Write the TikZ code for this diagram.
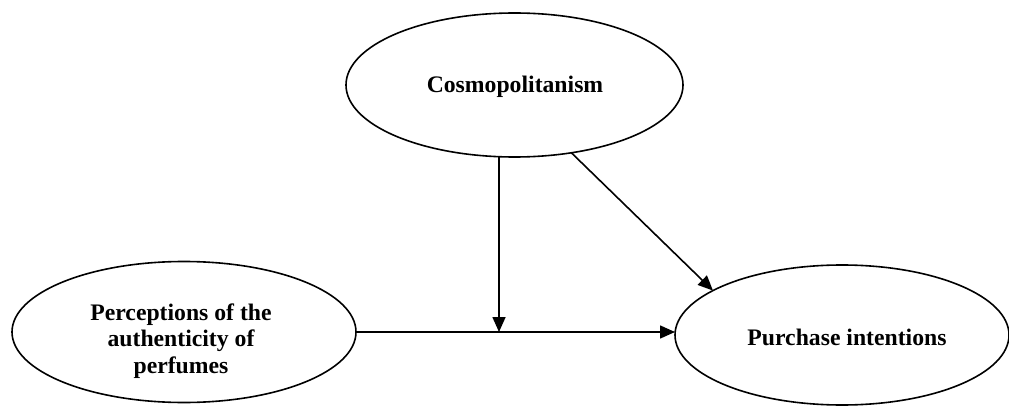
\documentclass[tikz,border=0pt]{standalone}
\usepackage{fontspec}
\setmainfont{Liberation Serif}
\usetikzlibrary{shapes.geometric,arrows.meta}
\tikzset{
  oval/.style={ellipse,draw=black,line width=1.6pt,inner sep=0pt,outer sep=0pt},
  lbl/.style={font=\fontsize{23.7}{26.5}\selectfont\bfseries,align=center,inner sep=0pt},
  conn/.style={line width=1.6pt,-{Triangle[length=15pt,width=13pt]}},
  plain/.style={line width=1.6pt}
}
\begin{document}
\begin{tikzpicture}[x=1pt,y=-1pt]
\useasboundingbox (0,0) rectangle (1009,406);
\node[oval,minimum width=337pt,minimum height=144pt] (cosmo) at (514.5,85) {};
\node[oval,minimum width=344pt,minimum height=141pt] (perc) at (184,332) {};
\node[oval,minimum width=334pt,minimum height=140pt] (purch) at (842,335) {};
\node[lbl] (cosmoT) at (515,87) {Cosmopolitanism};
\node[lbl] (percT) at (181,341) {Perceptions of the\\authenticity of\\perfumes};
\node[lbl] (purchT) at (847,337) {Purchase intentions};
\coordinate (j) at (499,332);
\draw[conn] (perc.east) -- (perc.east -| purch.west);
\draw[conn] (cosmo.south -| j) -- (j);
\draw[conn] (cosmo.-50) -- (purch.161);
\end{tikzpicture}
\end{document}
